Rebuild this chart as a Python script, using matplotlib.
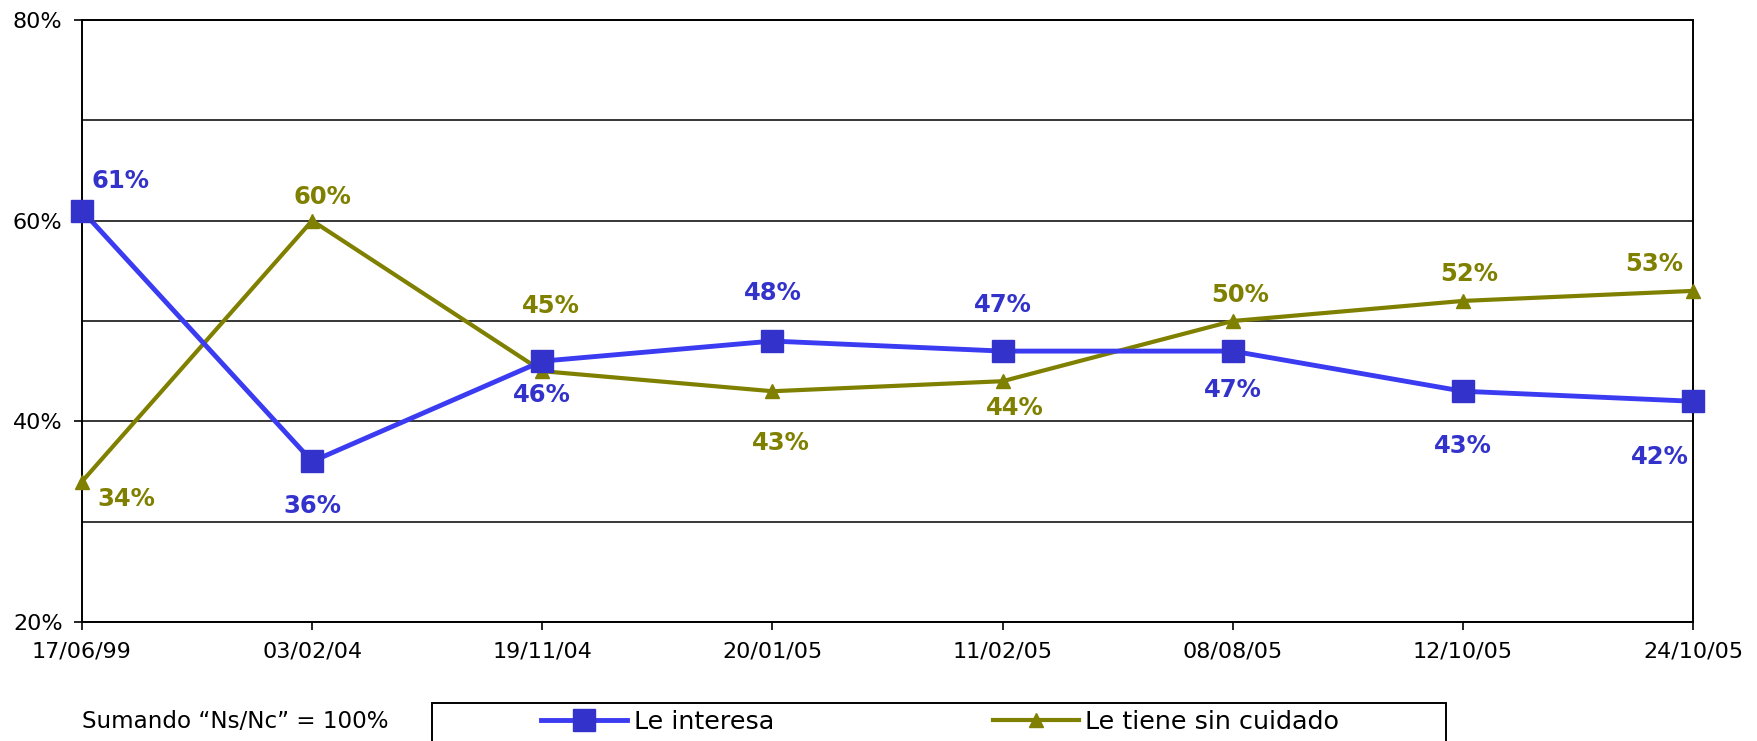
import numpy as np
import matplotlib.pyplot as plt
from matplotlib.lines import Line2D
from matplotlib.patches import Rectangle
from matplotlib.ticker import MultipleLocator, FuncFormatter

plt.rcParams['font.family'] = ['DejaVu Sans']

fechas = ['17/06/99', '03/02/04', '19/11/04', '20/01/05', '11/02/05', '08/08/05', '12/10/05', '24/10/05']
le_interesa = [61, 36, 46, 48, 47, 47, 43, 42]
sin_cuidado = [34, 60, 45, 43, 44, 50, 52, 53]

# desplazamiento de cada etiqueta (pixeles) respecto a su punto
off_interesa = [(39, 30), (0, -45), (0, -34), (0, 48), (0, 46), (0, -39), (0, -55), (-33, -56)]
off_cuidado = [(44, -17), (10, 24), (9, 65), (8, -52), (12, -27), (7, 26), (6, 27), (-39, 27)]

AZUL = '#3333CC'
AZUL_LINEA = '#3B3BF2'
OLIVA = '#808000'

W, H = 1758, 741
fig = plt.figure(figsize=(W / 100, H / 100), dpi=100)
ax = fig.add_axes([82 / W, 1 - 622 / H, (1693 - 82) / W, (622 - 20) / H])

x = np.arange(len(fechas))
ax.plot(x, le_interesa, color=AZUL_LINEA, lw=3.5, marker='s', ms=16,
        mfc=AZUL, mec=AZUL, zorder=4, clip_on=False)
ax.plot(x, sin_cuidado, color=OLIVA, lw=3.0, marker='^', ms=10.5,
        mfc=OLIVA, mec=OLIVA, zorder=3, clip_on=False)

for xi, v, (dx, dy) in zip(x, le_interesa, off_interesa):
    ax.annotate(f'{v}%', (xi, v), xytext=(dx, dy), textcoords='offset pixels',
                ha='center', va='center', color=AZUL, fontsize=17.5, fontweight='bold')
for xi, v, (dx, dy) in zip(x, sin_cuidado, off_cuidado):
    ax.annotate(f'{v}%', (xi, v), xytext=(dx, dy), textcoords='offset pixels',
                ha='center', va='center', color=OLIVA, fontsize=17.5, fontweight='bold')

ax.set_xlim(0, len(fechas) - 1)
ax.set_ylim(20, 80)
ax.set_xticks(x)
ax.set_xticklabels(fechas, fontsize=16)
ax.yaxis.set_major_locator(MultipleLocator(20))
ax.yaxis.set_minor_locator(MultipleLocator(10))
ax.yaxis.set_major_formatter(FuncFormatter(lambda v, p: f'{v:.0f}%'))
ax.tick_params(axis='y', which='major', labelsize=16, length=6, width=1.2, direction='out', pad=8)
ax.tick_params(axis='y', which='minor', length=0)
ax.tick_params(axis='x', length=6, width=1.2, direction='out', pad=8)
ax.grid(axis='y', which='both', color='black', lw=1.1)
ax.set_axisbelow(True)
for s in ax.spines.values():
    s.set_linewidth(1.4)
    s.set_color('black')

# nota y leyenda al pie
fig.text(82 / W, 1 - 722 / H, 'Sumando \u201cNs/Nc\u201d = 100%', fontsize=16.6, va='center', ha='left')
fig.patches.append(Rectangle((432 / W, -0.05), (1446 - 432) / W, 0.05 + 1 - 703 / H,
                             transform=fig.transFigure, fill=False, ec='black', lw=1.4))
handles = [
    Line2D([], [], color=AZUL_LINEA, lw=3.5, marker='s', ms=16, mfc=AZUL, mec=AZUL),
    Line2D([], [], color=OLIVA, lw=3.0, marker='^', ms=10.5, mfc=OLIVA, mec=OLIVA),
]
fig.legend(handles, ['Le interesa', 'Le tiene sin cuidado'], ncol=2, frameon=False,
           loc='center left', bbox_to_anchor=(541 / W, 1 - 722 / H), borderpad=0,
           borderaxespad=0, fontsize=18.3, handlelength=3.4, handletextpad=0.25,
           columnspacing=8.6)

fig.savefig('out.png', dpi=100)
